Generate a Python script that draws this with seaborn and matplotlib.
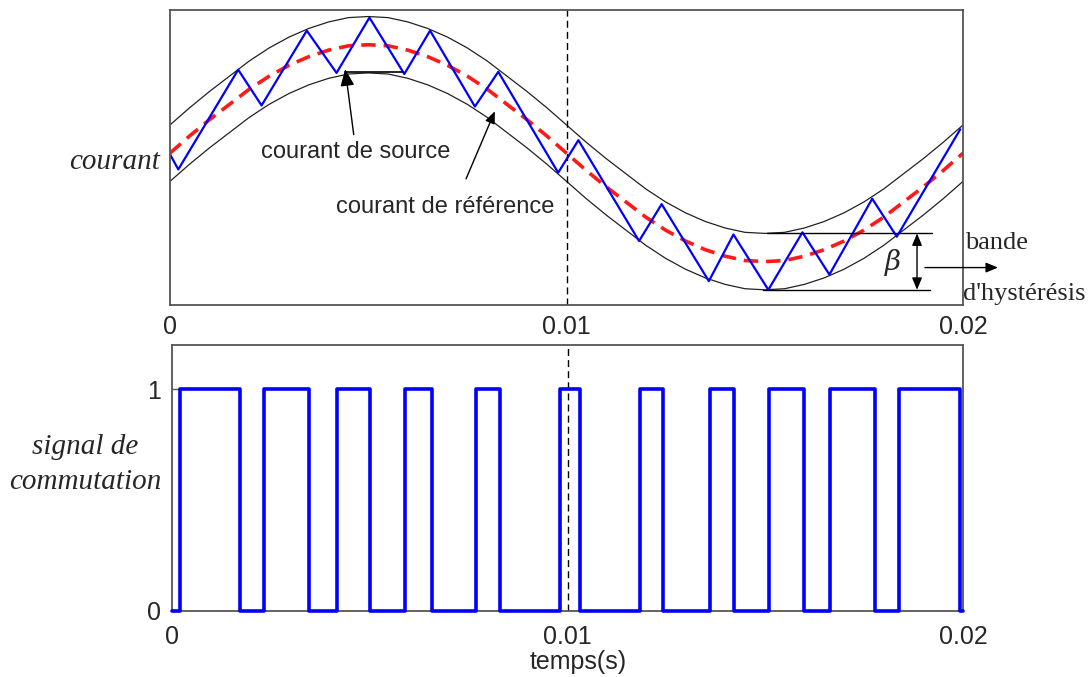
import numpy as np
import matplotlib.pyplot as plt
import seaborn as sns

sns.set_theme(style="white")
plt.rcParams['font.family'] = ['Liberation Sans Narrow', 'Liberation Sans', 'DejaVu Sans']
plt.rcParams['mathtext.fontset'] = 'dejavuserif'

SERIF = ['Liberation Serif', 'DejaVu Serif']

# x axis (time, s)
X_TICKS = [0, 0.01, 0.02]
X_TICK_LABELS = ["0", "0.01", "0.02"]

# reference current, read every 0.5 ms
ref_t = np.linspace(0, 0.02, 41)
ref_i = [0.00, 0.16, 0.31, 0.45, 0.59, 0.71, 0.81, 0.89, 0.95, 0.99, 1.00,
         0.99, 0.95, 0.89, 0.81, 0.71, 0.59, 0.45, 0.31, 0.16, 0.00,
         -0.16, -0.31, -0.45, -0.59, -0.71, -0.81, -0.89, -0.95, -0.99, -1.00,
         -0.99, -0.95, -0.89, -0.81, -0.71, -0.59, -0.45, -0.31, -0.16, 0.00]
BAND_HALF = 0.26  # half of the hysteresis band (beta / 2)

# source current (zigzag corners)
src_t = [0.0, 0.00021, 0.00172, 0.00231, 0.00345, 0.00420, 0.00503, 0.00591,
         0.00656, 0.00769, 0.00828, 0.00979, 0.01030, 0.01183, 0.01240, 0.01359,
         0.01421, 0.01509, 0.01595, 0.01663, 0.01771, 0.01833, 0.01993]
src_i = [-0.01, -0.15, 0.77, 0.44, 1.13, 0.74, 1.25, 0.73,
         1.13, 0.43, 0.75, -0.18, 0.12, -0.81, -0.47, -1.18,
         -0.75, -1.26, -0.73, -1.12, -0.42, -0.77, 0.22]

# switching signal (edges)
sw_t = [0.0, 0.00020, 0.00172, 0.00233, 0.00346, 0.00416, 0.00501, 0.00589,
        0.00657, 0.00768, 0.00828, 0.00981, 0.01032, 0.01183, 0.01242, 0.01360,
        0.01422, 0.01510, 0.01599, 0.01664, 0.01778, 0.01838, 0.01993, 0.02]
sw_s = [0, 1, 0, 1, 0, 1, 0, 1, 0, 1, 0, 1, 0, 1, 0, 1, 0, 1, 0, 1, 0, 1, 0, 0]

ref_i = np.array(ref_i)
upper = ref_i + BAND_HALF
lower = ref_i - BAND_HALF

fig = plt.figure(figsize=(10.91, 6.77), dpi=100)
ax1 = fig.add_axes([0.1558, 0.5495, 0.7269, 0.4357])
ax2 = fig.add_axes([0.1577, 0.0975, 0.7250, 0.3929])

# ---- top panel: currents and band
sns.lineplot(x=ref_t, y=upper, ax=ax1, color="#222222", lw=0.9, estimator=None, sort=False)
sns.lineplot(x=ref_t, y=lower, ax=ax1, color="#222222", lw=0.9, estimator=None, sort=False)
sns.lineplot(x=ref_t, y=ref_i, ax=ax1, color="#ff1a1a", lw=2.6, linestyle=(0, (4, 2.2)),
             estimator=None, sort=False)
sns.lineplot(x=src_t, y=src_i, ax=ax1, color="#0000ff", lw=1.6, estimator=None, sort=False)
ax1.axvline(0.01, color="black", lw=1, linestyle=(0, (5, 3)))

ax1.set_xlim(0, 0.02)
ax1.set_ylim(-1.40, 1.32)
ax1.set_yticks([])
ax1.set_xticks(X_TICKS)
ax1.set_xticklabels(X_TICK_LABELS)
ax1.tick_params(axis='x', direction='in', length=0, pad=7, labelsize=18)
ax1.set_ylabel("courant", rotation=0, family=SERIF, fontstyle='italic', fontsize=21,
               ha='right', va='center')
ax1.yaxis.set_label_coords(-0.012, 0.485)

arrow_kw = dict(arrowstyle='-|>,head_length=0.6,head_width=0.25', color='black', lw=1)
ax1.annotate("courant de source", xy=(0.00441, 0.80), xytext=(0.00469, 0.014),
             ha='center', va='center', fontsize=17, arrowprops=arrow_kw)
ax1.plot([0.00441, 0.00588], [0.751, 0.751], color='black', lw=1.2)
ax1.text(0.00694, -0.50, "courant de référence", ha='center', va='center', fontsize=17)
ax1.annotate("", xy=(0.00822, 0.41), xytext=(0.00744, -0.26), arrowprops=arrow_kw)

# hysteresis band dimension
top_b, bot_b = upper.min(), lower.min()
ax1.plot([0.01506, 0.01922], [top_b, top_b], color='black', lw=1)
ax1.plot([0.01496, 0.01917], [bot_b, bot_b], color='black', lw=1)
ax1.annotate("", xy=(0.01884, top_b), xytext=(0.01884, bot_b),
             arrowprops=dict(arrowstyle='<|-|>,head_length=0.6,head_width=0.25',
                             color='black', lw=1, shrinkA=0, shrinkB=0))
ax1.text(0.01823, -1.01, r"$\beta$", ha='center', va='center', fontsize=20)
ax1.annotate("", xy=(0.02088, -1.055), xytext=(0.01904, -1.055), annotation_clip=False,
             arrowprops=dict(arrowstyle='-|>,head_length=0.6,head_width=0.25',
                             color='black', lw=1, shrinkA=0, shrinkB=0))
ax1.text(0.02005, -0.825, "bande", ha='left', va='center', family=SERIF, fontsize=19)
ax1.text(0.0200, -1.30, "d'hystérésis", ha='left', va='center', family=SERIF, fontsize=19)

# ---- bottom panel: switching signal
sns.lineplot(x=sw_t, y=sw_s, ax=ax2, color="#0000ff", lw=2.6, drawstyle='steps-post',
             estimator=None, sort=False, clip_on=False, zorder=3)
ax2.axvline(0.01, color="black", lw=1, linestyle=(0, (5, 3)))
ax2.set_xlim(0, 0.02)
ax2.set_ylim(0, 1.2)
ax2.set_xticks(X_TICKS)
ax2.set_xticklabels(X_TICK_LABELS)
ax2.set_yticks([0, 1])
ax2.set_yticklabels(["0", "1"])
ax2.tick_params(axis='x', direction='in', length=0, pad=10, labelsize=18)
ax2.tick_params(axis='y', direction='in', length=5, width=1, color='#555555', pad=8, labelsize=18, left=True)
ax2.set_xlabel("temps(s)", fontsize=18)
ax2.xaxis.set_label_coords(0.513, -0.145)
ax2.xaxis.label.set_va('top')
ax2.set_ylabel("signal de\ncommutation", rotation=0, family=SERIF, fontstyle='italic',
               fontsize=21, ha='center', va='center', linespacing=1.45)
ax2.yaxis.set_label_coords(-0.11, 0.55)

for ax in (ax1, ax2):
    for sp in ax.spines.values():
        sp.set_color('#555555')
        sp.set_linewidth(1.3)
    ax.grid(False)

fig.savefig("out.png", dpi=100, facecolor='white')
